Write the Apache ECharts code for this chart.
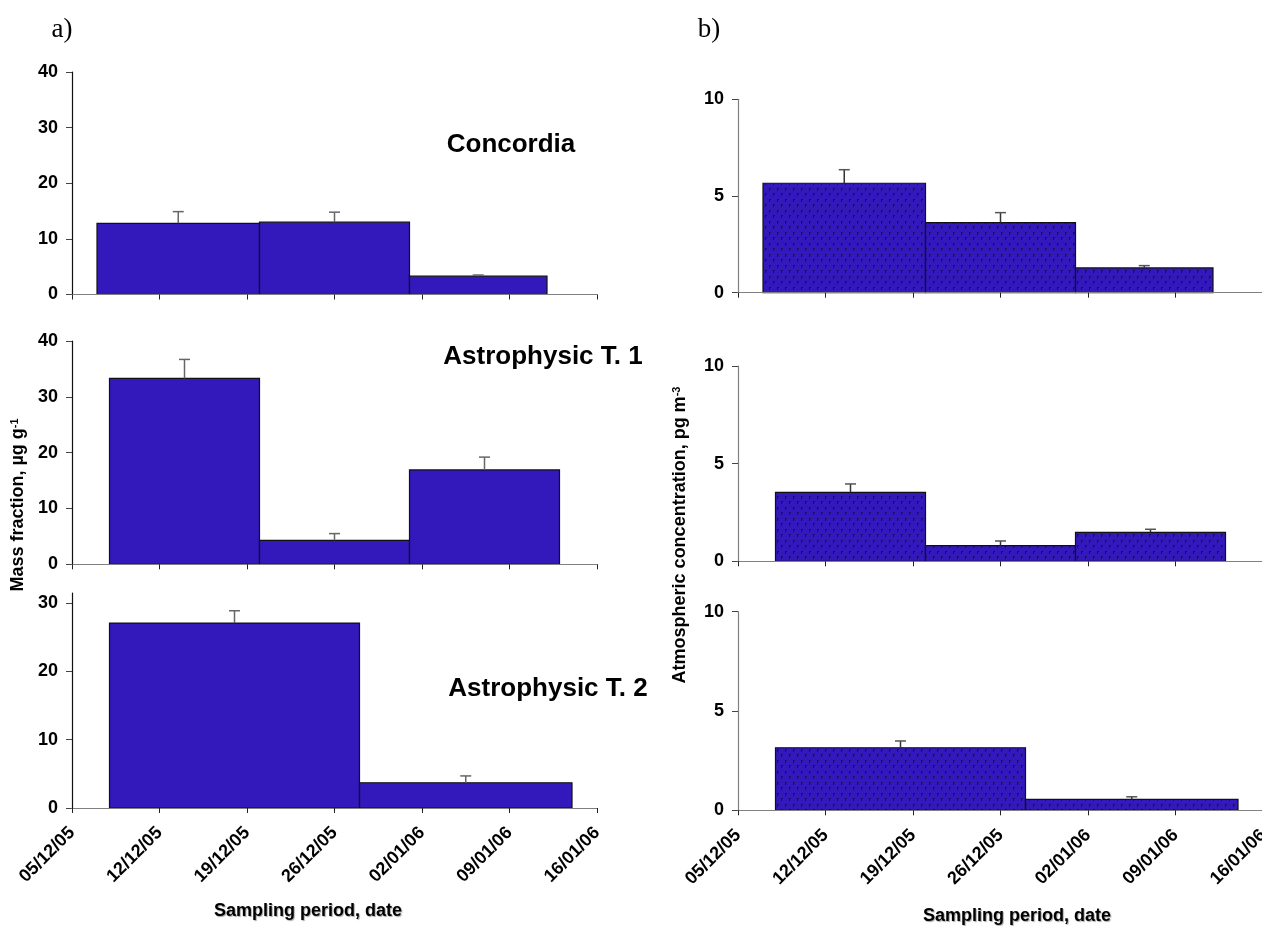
<!DOCTYPE html>
<html>
<head>
<meta charset="utf-8">
<script src="https://cdn.jsdelivr.net/npm/echarts@6/dist/echarts.min.js"></script>
<style>
  html, body { margin: 0; padding: 0; background: #fff; }
  #chart { width: 1262px; height: 926px; }
</style>
</head>
<body>
<div id="chart"></div>
<script>
// ---- data ----
const dateTicks = ['05/12/05', '12/12/05', '19/12/05', '26/12/05', '02/01/06', '09/01/06', '16/01/06'];
const siteNames = ['Concordia', 'Astrophysic T. 1', 'Astrophysic T. 2'];

// sampling periods (start / end date of each filter)
const concordiaStart = ['2005-12-07', '2005-12-20', '2006-01-01'];
const concordiaEnd   = ['2005-12-20', '2006-01-01', '2006-01-12'];
const astro1Start    = ['2005-12-08', '2005-12-20', '2006-01-01'];
const astro1End      = ['2005-12-20', '2006-01-01', '2006-01-13'];
const astro2Start    = ['2005-12-08', '2005-12-28'];
const astro2End      = ['2005-12-28', '2006-01-14'];

// mass fraction, µg g-1 (value and upper uncertainty)
const concordiaMass    = [12.8, 13.0, 3.3];
const concordiaMassErr = [2.1, 1.8, 0.2];
const astro1Mass       = [33.3, 4.3, 16.9];
const astro1MassErr    = [3.4, 1.2, 2.3];
const astro2Mass       = [27.1, 3.7];
const astro2MassErr    = [1.8, 1.0];

// atmospheric concentration, pg m-3 (value and upper uncertainty)
const concordiaAtm    = [5.66, 3.62, 1.28];
const concordiaAtmErr = [0.70, 0.52, 0.12];
const astro1Atm       = [3.53, 0.80, 1.48];
const astro1AtmErr    = [0.43, 0.24, 0.16];
const astro2Atm       = [3.15, 0.55];
const astro2AtmErr    = [0.34, 0.13];

// ---- helpers ----
const DAY0 = Date.UTC(2005, 11, 5);
const toDay = s => (Date.parse(s + 'T00:00:00Z') - DAY0) / 86400000;
const rows = (start, end, val, err) => start.map((s, i) => [toDay(s), toDay(end[i]), val[i], err[i]]);

const BAR_BLUE = '#3318bc';

// dotted hatch used for the concentration bars
const hatch = document.createElement('canvas');
hatch.width = 8; hatch.height = 11;
(function () {
  const c = hatch.getContext('2d');
  c.fillStyle = BAR_BLUE; c.fillRect(0, 0, 8, 11);
  c.fillStyle = '#1a0c5e';
  c.fillRect(1, 1, 1, 3); c.fillRect(2, 1, 1, 1);
  c.fillRect(5, 6, 1, 3); c.fillRect(6, 6, 1, 1);
})();

const FONT = '"Liberation Sans", Arial, sans-serif';

// panel layout: [left, top, width, height]
const panels = [
  { box: [72, 72, 525, 222.5],   max: 40,   interval: 10, data: rows(concordiaStart, concordiaEnd, concordiaMass, concordiaMassErr), hatched: false, labels: false, yLine: '#111' },
  { box: [72, 341, 525, 223.3],  max: 40,   interval: 10, data: rows(astro1Start, astro1End, astro1Mass, astro1MassErr),             hatched: false, labels: false, yLine: '#111' },
  { box: [72, 593, 525, 215],    max: 31.5, interval: 10, data: rows(astro2Start, astro2End, astro2Mass, astro2MassErr),             hatched: false, labels: true,  yLine: '#111', custom: [0, 10, 20, 30] },
  { box: [738, 99.3, 525, 193.4], max: 10,  interval: 5,  data: rows(concordiaStart, concordiaEnd, concordiaAtm, concordiaAtmErr),  hatched: true,  labels: false, yLine: '#808080' },
  { box: [738, 366, 525, 195.3],  max: 10,  interval: 5,  data: rows(astro1Start, astro1End, astro1Atm, astro1AtmErr),              hatched: true,  labels: false, yLine: '#808080' },
  { box: [738, 611.7, 525, 198.6], max: 10, interval: 5,  data: rows(astro2Start, astro2End, astro2Atm, astro2AtmErr),              hatched: true,  labels: true,  yLine: '#808080' }
];

const grids = [], xAxes = [], yAxes = [], series = [];

panels.forEach((p, i) => {
  grids.push({
    left: p.box[0], top: p.box[1], width: p.box[2], height: p.box[3],
    containLabel: false, outerBoundsMode: 'none'
  });

  xAxes.push({
    type: 'value', gridIndex: i, min: 0, max: 42, interval: 7, z: 5,
    axisLine: { show: true, lineStyle: { color: '#808080', width: 1.2 } },
    axisTick: { show: true, length: 5, lineStyle: { color: '#222', width: 1 } },
    splitLine: { show: false },
    axisLabel: p.labels ? {
      show: true, rotate: 45, margin: 22, color: '#000',
      fontSize: 18, fontWeight: 'bold', fontFamily: FONT,
      showMinLabel: true, showMaxLabel: true, hideOverlap: false,
      formatter: v => dateTicks[Math.round(v / 7)] || ''
    } : { show: false }
  });

  const yAx = {
    type: 'value', gridIndex: i, min: 0, max: p.max, interval: p.interval,
    axisLine: { show: true, lineStyle: { color: p.yLine, width: 1.2 } },
    axisTick: { show: true, length: 6, lineStyle: { color: '#444', width: 1 } },
    splitLine: { show: false },
    axisLabel: { color: '#000', fontSize: 18, fontWeight: 'bold', fontFamily: FONT, margin: 14 }
  };
  if (p.custom) {
    yAx.axisTick.customValues = p.custom;
    yAx.axisLabel.customValues = p.custom;
  }
  yAxes.push(yAx);

  const fill = p.hatched ? { image: hatch, repeat: 'repeat' } : BAR_BLUE;
  series.push({
    type: 'custom', xAxisIndex: i, yAxisIndex: i, z: 2,
    data: p.data,
    encode: { x: [0, 1], y: 2 },
    renderItem: (params, api) => {
      const s = api.value(0), e = api.value(1), v = api.value(2), err = api.value(3);
      const p0 = api.coord([s, 0]);
      const p1 = api.coord([e, v]);
      const mid = api.coord([(s + e) / 2, v + err]);
      const top = p1[1];
      return {
        type: 'group',
        children: [
          {
            type: 'rect',
            shape: { x: p0[0], y: top, width: p1[0] - p0[0], height: p0[1] - top },
            style: { fill: fill, stroke: '#111', lineWidth: 1.2 }
          },
          {
            type: 'line',
            shape: { x1: mid[0], y1: top, x2: mid[0], y2: mid[1] },
            style: { stroke: p.hatched ? '#333' : '#666', lineWidth: 1.5 }
          },
          {
            type: 'line',
            shape: { x1: mid[0] - 5.5, y1: mid[1], x2: mid[0] + 5.5, y2: mid[1] },
            style: { stroke: p.hatched ? '#555' : '#666', lineWidth: 1.5 }
          }
        ]
      };
    }
  });
});

const txt = (x, y, text, extra) => Object.assign({
  type: 'text', x: x, y: y, z: 10,
  style: Object.assign({
    text: text, fill: '#000', fontFamily: FONT, fontWeight: 'bold', fontSize: 26,
    align: 'center', verticalAlign: 'middle'
  }, extra || {})
});

const supRich = { sup: { fontSize: 11, fontWeight: 'bold', fontFamily: FONT, verticalAlign: 'top', fill: '#000' } };
const shadow = { textShadowColor: 'rgba(0,0,0,0.35)', textShadowBlur: 1, textShadowOffsetX: 1, textShadowOffsetY: 1 };

const graphics = [
  txt(62, 30, 'a)', { fontFamily: '"Liberation Serif", "Times New Roman", serif', fontWeight: 'normal', fontSize: 27 }),
  txt(709, 30, 'b)', { fontFamily: '"Liberation Serif", "Times New Roman", serif', fontWeight: 'normal', fontSize: 27 }),
  txt(511, 145, siteNames[0]),
  txt(543, 357, siteNames[1]),
  txt(548, 689, siteNames[2]),
  Object.assign(txt(18, 505, 'Mass fraction, µg g{sup|-1}', { fontSize: 18, rich: supRich }), { rotation: Math.PI / 2 }),
  Object.assign(txt(680, 535, 'Atmospheric concentration, pg m{sup|-3}', { fontSize: 18, rich: supRich }), { rotation: Math.PI / 2 }),
  txt(308, 911, 'Sampling period, date', Object.assign({ fontSize: 18 }, shadow)),
  txt(1017, 916, 'Sampling period, date', Object.assign({ fontSize: 18 }, shadow))
];

const chart = echarts.init(document.getElementById('chart'), null, { renderer: 'canvas' });
chart.setOption({
  animation: false,
  backgroundColor: '#fff',
  grid: grids,
  xAxis: xAxes,
  yAxis: yAxes,
  series: series,
  graphic: graphics
});
</script>
</body>
</html>
